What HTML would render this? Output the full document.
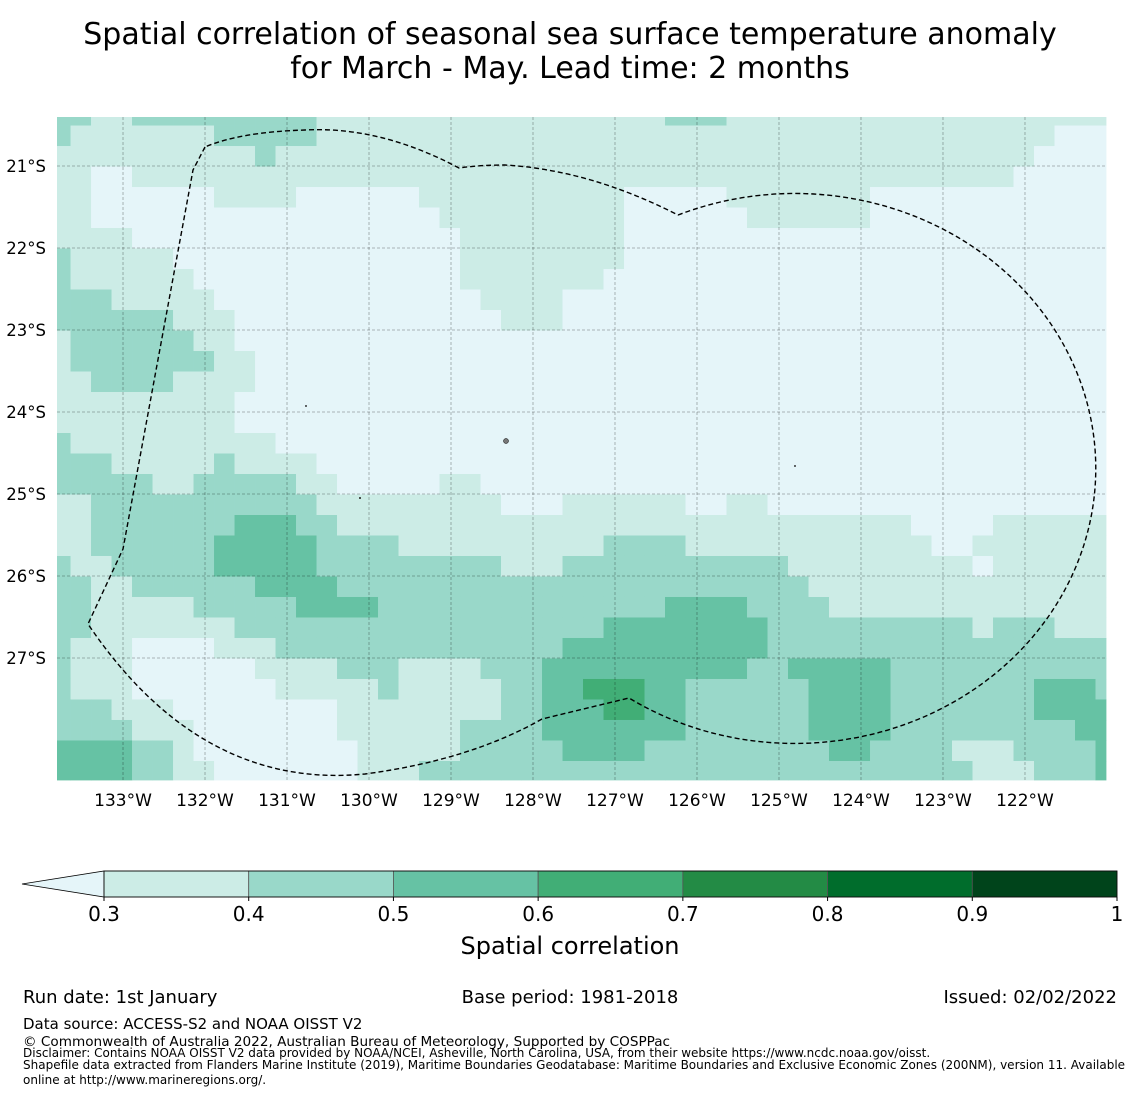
<!DOCTYPE html>
<html><head><meta charset="utf-8"><style>
html,body{margin:0;padding:0;background:#fff;}
svg{display:block;font-family:"DejaVu Sans","Liberation Sans",sans-serif;}
</style></head><body>
<svg id="chart" width="1140" height="1095" viewBox="0 0 1140 1095" xmlns="http://www.w3.org/2000/svg">
<text x="570" y="44" font-size="30" text-anchor="middle">Spatial correlation of seasonal sea surface temperature anomaly</text>
<text x="570" y="78" font-size="30" text-anchor="middle">for March - May. Lead time: 2 months</text>
<g id="cells"></g>
<g id="grid"></g>
<path fill="none" stroke="#000" stroke-width="1.4" stroke-dasharray="5,3"
 d="M205,147 L193,170 L123,549 L88,624 Q200,790 365,774 Q470,760 542,719 L629,698 A301 275 0 1 0 678 215 Q590,170 505,165 Q480,165 459,168 Q380,126 305,130 Q240,132 205,147 Z"/>
<g fill="#777" stroke="#000" stroke-width="0.5">
<circle cx="506" cy="441" r="2.5"/><circle cx="306" cy="406" r="0.7"/><circle cx="360" cy="498" r="0.8"/><circle cx="795" cy="466" r="0.7"/>
</g>
<g id="yticks"></g>
<g id="xticks"></g>
<g id="cbar"></g>
<text x="570" y="954" font-size="24" text-anchor="middle">Spatial correlation</text>
<text x="23" y="1003" font-size="18">Run date: 1st January</text>
<text x="570" y="1003" font-size="18" text-anchor="middle">Base period: 1981-2018</text>
<text x="1117" y="1003" font-size="18" text-anchor="end">Issued: 02/02/2022</text>
<text x="23" y="1029" font-size="15">Data source: ACCESS-S2 and NOAA OISST V2</text>
<text x="23" y="1046" font-size="13.6">© Commonwealth of Australia 2022, Australian Bureau of Meteorology, Supported by COSPPac</text>
<text x="23" y="1057" font-size="12">Disclaimer: Contains NOAA OISST V2 data provided by NOAA/NCEI, Asheville, North Carolina, USA, from their website https://www.ncdc.noaa.gov/oisst.</text>
<text x="23" y="1069" font-size="12">Shapefile data extracted from Flanders Marine Institute (2019), Maritime Boundaries Geodatabase: Maritime Boundaries and Exclusive Economic Zones (200NM), version 11. Available</text>
<text x="23" y="1084" font-size="12">online at http://www.marineregions.org/.</text>
</svg>
<script>
// Data: correlation class per cell (0:<0.3, 1:0.3-0.4, 2:0.4-0.5, 3:0.5-0.6, 4:0.6-0.7), run-length encoded [class,count]
const rowRuns = [
[[2,2],[1,2],[2,9],[1,17],[2,3],[1,19]],
[[2,1],[1,7],[2,5],[1,36],[0,3]],
[[1,10],[2,1],[1,37],[0,4]],
[[1,2],[0,2],[1,43],[0,5]],
[[1,2],[0,6],[1,4],[0,6],[1,10],[0,5],[1,7],[0,12]],
[[1,2],[0,17],[1,9],[0,6],[1,6],[0,12]],
[[1,4],[0,16],[1,8],[0,24]],
[[2,1],[1,5],[0,14],[1,8],[0,24]],
[[2,1],[1,6],[0,13],[1,7],[0,25]],
[[2,3],[1,5],[0,13],[1,4],[0,27]],
[[2,6],[1,3],[0,13],[1,3],[0,27]],
[[1,1],[2,6],[1,2],[0,43]],
[[1,1],[2,7],[1,2],[0,42]],
[[1,2],[2,4],[1,4],[0,42]],
[[1,9],[0,43]],
[[1,9],[0,43]],
[[2,1],[1,10],[0,41]],
[[2,3],[1,5],[2,1],[1,4],[0,39]],
[[2,5],[1,2],[2,5],[1,2],[0,5],[1,2],[0,31]],
[[1,2],[2,11],[1,9],[0,3],[1,6],[0,2],[1,2],[0,17]],
[[1,2],[2,7],[3,3],[2,2],[1,28],[0,4],[1,6]],
[[1,2],[2,6],[3,5],[2,4],[1,10],[2,4],[1,12],[0,2],[1,7]],
[[2,1],[1,2],[2,5],[3,5],[2,9],[1,3],[2,11],[1,9],[0,1],[1,6]],
[[2,2],[1,2],[2,6],[3,4],[2,23],[1,15]],
[[2,2],[1,5],[2,5],[3,4],[2,14],[3,4],[2,4],[1,14]],
[[2,2],[1,7],[2,18],[3,8],[2,10],[1,1],[2,3],[1,3]],
[[2,1],[1,3],[0,4],[1,3],[2,14],[3,10],[2,17]],
[[2,1],[1,3],[0,6],[1,4],[2,3],[1,4],[2,3],[3,10],[2,2],[3,5],[2,11]],
[[2,1],[1,3],[0,7],[1,5],[2,1],[1,5],[2,2],[3,2],[4,3],[3,2],[2,6],[3,4],[2,7],[3,3],[2,1]],
[[2,3],[1,3],[0,8],[1,8],[2,2],[3,3],[4,2],[3,2],[2,6],[3,4],[2,7],[3,4]],
[[2,4],[1,3],[0,7],[1,6],[2,4],[3,7],[2,6],[3,4],[2,9],[3,2]],
[[3,4],[2,2],[1,1],[0,8],[1,5],[2,5],[3,4],[2,9],[3,2],[2,4],[1,3],[2,4],[3,1]],
[[3,4],[2,2],[1,2],[0,7],[1,3],[2,27],[1,3],[2,3],[3,1]]
];
const classColors = ["#e5f5f9","#ccece6","#99d8c9","#66c2a4","#41ae76","#238b45","#006d2c","#00441b"];
const lonTicks = [133,132,131,130,129,128,127,126,125,124,123,122];
const latTicks = [21,22,23,24,25,26,27];
const cbarBounds = ["0.3","0.4","0.5","0.6","0.7","0.8","0.9","1"];

const NS="http://www.w3.org/2000/svg";
const LON_L=133.805, LON_R=121.012, LAT_T=20.402, LAT_B=28.488;
const MX0=57, MX1=1106, MY0=117, MY1=780;
function xOf(lonW){return MX0+(LON_L-lonW)/(LON_L-LON_R)*(MX1-MX0);}
function yOf(latS){return MY0+(latS-LAT_T)/(LAT_B-LAT_T)*(MY1-MY0);}
const CELL=0.25, LON_EDGE0=133.640, LAT_EDGE0=20.506;
function mk(tag,attrs,parent){const e=document.createElementNS(NS,tag);for(const k in attrs)e.setAttribute(k,attrs[k]);parent.appendChild(e);return e;}

const gridValues = rowRuns.map(r=>{const a=[];r.forEach(([v,n])=>{for(let i=0;i<n;i++)a.push(v);});return a;});
const cells=document.getElementById('cells');
gridValues.forEach((row,j)=>{
  const latA = j===0?LAT_T:LAT_EDGE0+CELL*(j-1);
  const latB = Math.min(LAT_EDGE0+CELL*j,LAT_B);
  row.forEach((v,k)=>{
    const lonA = k===0?LON_L:LON_EDGE0-CELL*(k-1);
    const lonB = Math.max(LON_EDGE0-CELL*k,LON_R);
    const x0=xOf(lonA),x1=xOf(lonB),y0=yOf(latA),y1=yOf(latB);
    const r=mk('rect',{x:x0.toFixed(2),y:y0.toFixed(2),width:(x1-x0+0.4).toFixed(2),height:(y1-y0+0.4).toFixed(2),fill:classColors[v]},cells);
    
    
  });
});
const grid=document.getElementById('grid');
lonTicks.forEach(l=>{const x=xOf(l);
  const ln=mk('line',{x1:x,x2:x,y1:MY0,y2:MY1,stroke:'#000','stroke-opacity':0.35,'stroke-width':0.8,'stroke-dasharray':'3,2'},grid);
  
  
  const t=mk('text',{x:x,y:806,'font-size':17,'text-anchor':'middle'},document.getElementById('xticks'));
  t.textContent=l+'°W';
  
  
});
latTicks.forEach(l=>{const y=yOf(l);
  const ln=mk('line',{x1:MX0,x2:MX1,y1:y,y2:y,stroke:'#000','stroke-opacity':0.35,'stroke-width':0.8,'stroke-dasharray':'3,2'},grid);
  
  
  const t=mk('text',{x:46,y:y+6,'font-size':16.5,'text-anchor':'end'},document.getElementById('yticks'));
  t.textContent=l+'°S';
  
  
});
const cb=document.getElementById('cbar');
const CB0=104, CB1=1117, CBY=871, CBH=26, seg=(CB1-CB0)/(cbarBounds.length-1);
const tri=mk('polygon',{points:`22,${CBY+CBH/2} ${CB0},${CBY} ${CB0},${CBY+CBH}`,fill:classColors[0],stroke:'#000','stroke-width':0.8},cb);


for(let i=0;i<cbarBounds.length-1;i++){
  const r=mk('rect',{x:CB0+i*seg,y:CBY,width:seg,height:CBH,fill:classColors[i+1],stroke:'#555','stroke-width':0.8},cb);
  
  
}
mk('rect',{x:CB0,y:CBY,width:CB1-CB0,height:CBH,fill:'none',stroke:'#000','stroke-width':0.8},cb);
cbarBounds.forEach((b,i)=>{
  const x=CB0+i*seg;
  mk('line',{x1:x,x2:x,y1:CBY+CBH,y2:CBY+CBH+4,stroke:'#000'},cb);
  const t=mk('text',{x:x,y:921,'font-size':20,'text-anchor':'middle'},cb);
  t.textContent=b;
  
  
});
</script>
</body></html>
